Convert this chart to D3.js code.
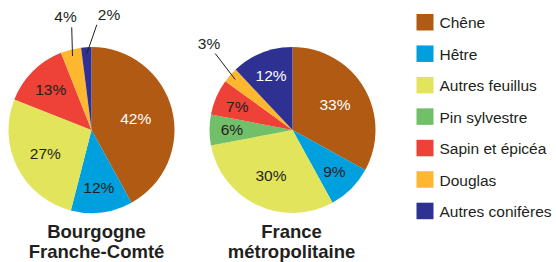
<!DOCTYPE html>
<html>
<head>
<meta charset="utf-8">
<script src="https://cdn.jsdelivr.net/npm/d3@7"></script>
<style>
  body { margin: 0; background: #fff; }
  svg { display: block; font-family: "Liberation Sans", Arial, sans-serif; }
</style>
</head>
<body>
<div id="chart"></div>
<script>
// essences (ordre du graphique, sens horaire depuis midi)
const species = ["Chêne", "Hêtre", "Autres feuillus", "Pin sylvestre", "Sapin et épicéa", "Douglas", "Autres conifères"];
const bourgogneValues = [42, 12, 27, 0, 13, 4, 2];
const franceValues = [33, 9, 30, 6, 7, 3, 12];
const bourgogneTitle = ["Bourgogne", "Franche-Comté"];
const franceTitle = ["France", "métropolitaine"];

const colors = ["#B05A14", "#009FDD", "#E2E55B", "#72BF6A", "#EE4137", "#FDB830", "#2E3192"];
const whiteLabel = ["Chêne", "Autres conifères"];

const width = 556;
const height = 262;
const radius = 83;

const svg = d3.select("#chart").append("svg")
    .attr("width", width)
    .attr("height", height);

const color = d3.scaleOrdinal().domain(species).range(colors);

const pie = d3.pie().sort(null).value(d => d.value);
const arc = d3.arc().innerRadius(0).outerRadius(radius);

// petites parts : étiquette à l'extérieur avec un trait
const outside = {
    bfc: { "Douglas": { da: 3.5, r: 1.26 }, "Autres conifères": { da: 6.5, r: 1.27 } },
    fr: { "Douglas": { da: 3.3, r: 1.31 } }
};

function drawPie(key, values, title, cx, cy, titleDx) {
    const data = species.map((s, i) => ({ name: s, value: values[i] }));
    const g = svg.append("g").attr("transform", `translate(${cx}, ${cy})`);
    const arcs = pie(data).filter(d => d.data.value > 0);

    g.selectAll("path")
        .data(arcs)
        .enter()
        .append("path")
        .attr("d", arc)
        .attr("fill", d => color(d.data.name));

    arcs.forEach(d => {
        const mid = (d.startAngle + d.endAngle) / 2;
        const out = outside[key][d.data.name];
        const txt = d.data.value + "%";
        if (out) {
            const a2 = mid + out.da * Math.PI / 180;
            const x1 = Math.sin(mid) * radius * 0.92, y1 = -Math.cos(mid) * radius * 0.92;
            const x2 = Math.sin(a2) * radius * out.r, y2 = -Math.cos(a2) * radius * out.r;
            g.append("line")
                .attr("x1", x1).attr("y1", y1)
                .attr("x2", x2).attr("y2", y2)
                .attr("stroke", "#231F20")
                .attr("stroke-width", 1);
            const left = x2 < 0;
            g.append("text")
                .attr("x", left ? x2 + 5 : x2 + 1)
                .attr("y", y2 - 5)
                .attr("text-anchor", left ? "end" : "start")
                .style("font-size", "15.5px")
                .style("fill", "#231F20")
                .text(txt);
        } else {
            const f = 0.76 - d.data.value * 0.5 / 100;
            const lab = d3.arc().innerRadius(radius * f).outerRadius(radius * f);
            const [lx, ly] = lab.centroid(d);
            g.append("text")
                .attr("x", lx)
                .attr("y", ly)
                .attr("dy", "0.35em")
                .attr("text-anchor", "middle")
                .style("font-size", "15.5px")
                .style("fill", whiteLabel.includes(d.data.name) ? "#fff" : "#231F20")
                .text(txt);
        }
    });

    svg.append("text")
        .attr("x", cx + titleDx)
        .attr("y", 238)
        .attr("text-anchor", "middle")
        .style("font-size", "18.5px")
        .style("font-weight", "bold")
        .style("fill", "#231F20")
        .selectAll("tspan")
        .data(title)
        .enter()
        .append("tspan")
        .attr("x", cx + titleDx)
        .attr("dy", (d, i) => i === 0 ? 0 : 20)
        .text(d => d);
}

drawPie("bfc", bourgogneValues, bourgogneTitle, 91.5, 130, 5);
drawPie("fr", franceValues, franceTitle, 292.5, 130, -1);

// légende
const legend = svg.append("g").attr("transform", "translate(416.5, 14)");
const row = legend.selectAll(".row")
    .data(species)
    .enter()
    .append("g")
    .attr("class", "row")
    .attr("transform", (d, i) => `translate(0, ${i * 31.45})`);

row.append("rect")
    .attr("width", 17)
    .attr("height", 16.5)
    .attr("fill", d => color(d));

row.append("text")
    .attr("x", 23)
    .attr("y", 14.3)
    .style("font-size", "15.5px")
    .style("fill", "#231F20")
    .text(d => d);
</script>
</body>
</html>
